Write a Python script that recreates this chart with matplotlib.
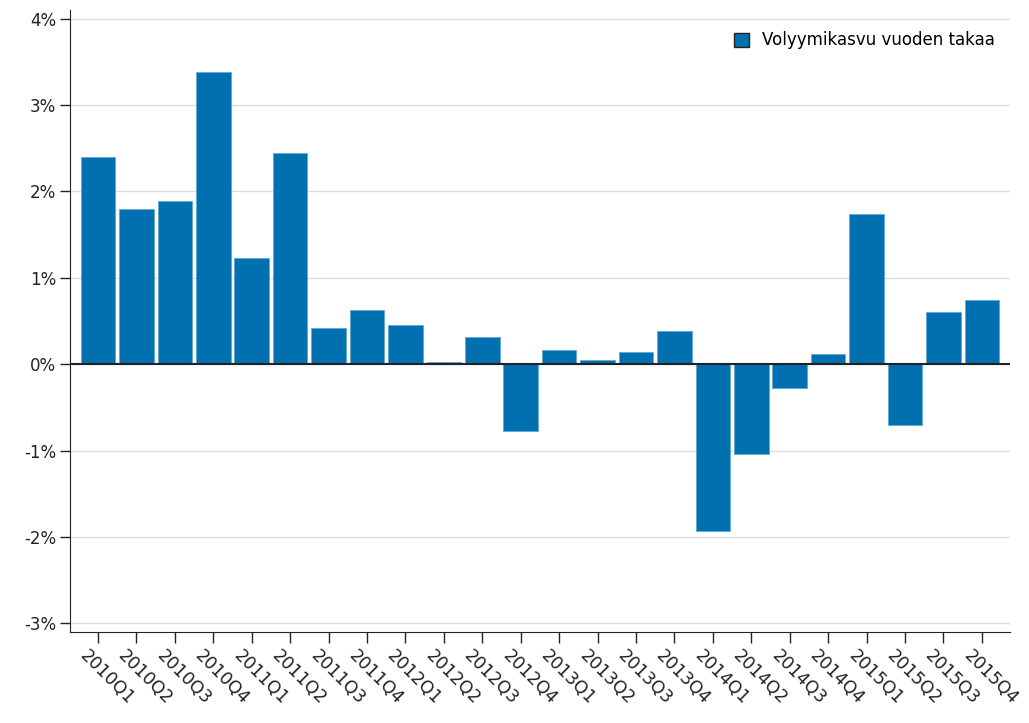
import numpy as np
import matplotlib
matplotlib.use('Agg')
import matplotlib.pyplot as plt
import matplotlib.transforms as mtransforms
from matplotlib.ticker import FuncFormatter

quarters = ['2010Q1', '2010Q2', '2010Q3', '2010Q4',
            '2011Q1', '2011Q2', '2011Q3', '2011Q4',
            '2012Q1', '2012Q2', '2012Q3', '2012Q4',
            '2013Q1', '2013Q2', '2013Q3', '2013Q4',
            '2014Q1', '2014Q2', '2014Q3', '2014Q4',
            '2015Q1', '2015Q2', '2015Q3', '2015Q4']
growth = [2.40, 1.80, 1.89, 3.38,
          1.23, 2.45, 0.42, 0.63,
          0.45, 0.02, 0.32, -0.77,
          0.16, 0.05, 0.14, 0.39,
          -1.93, -1.04, -0.27, 0.12,
          1.74, -0.70, 0.60, 0.74]
series_name = 'Volyymikasvu vuoden takaa'
yticks = [-3, -2, -1, 0, 1, 2, 3, 4]

plt.rcParams['font.family'] = 'DejaVu Sans'
fig = plt.figure(figsize=(10.29, 7.23), dpi=100)
ax = fig.add_axes([0.068, 0.126, 0.9135, 0.86])

x = np.arange(len(quarters))
ax.bar(x, growth, width=0.9, color='#0070b0', edgecolor='#5fa8d8',
       linewidth=0.6, label=series_name, zorder=3)
ax.axhline(0, color='#222222', linewidth=1.5, zorder=4)

ax.set_xlim(-0.73, len(quarters) - 0.27)
ax.set_ylim(-3.1, 4.1)
ax.set_yticks(yticks)
ax.yaxis.set_major_formatter(FuncFormatter(lambda v, p: '%d%%' % v))
ax.grid(axis='y', color='#dddddd', linewidth=1, zorder=0)

# x tick labels drawn as text so they can sit a little left of the ticks
ax.set_xticks(x)
ax.set_xticklabels([])
shift = mtransforms.ScaledTranslation(-9 / 100, -15 / 100, fig.dpi_scale_trans)
for xi, q in zip(x, quarters):
    ax.text(xi, 0, q, transform=ax.get_xaxis_transform() + shift,
            rotation=-45, ha='left', va='top', rotation_mode='anchor',
            fontsize=12.5, color='#222222', clip_on=False)

ax.spines['top'].set_visible(False)
ax.spines['right'].set_visible(False)
ax.spines['left'].set_color('#222222')
ax.spines['bottom'].set_color('#222222')
ax.tick_params(axis='x', length=8, width=1, colors='#222222')
ax.tick_params(axis='y', length=7, width=1, labelsize=12, pad=3, colors='#222222')

leg = ax.legend(loc='upper right', frameon=False, fontsize=12,
                handlelength=0.9, handleheight=0.9, handletextpad=0.8,
                bbox_to_anchor=(1.0, 0.99))
for h in leg.legend_handles:
    h.set_edgecolor('#222222')
    h.set_linewidth(1)

plt.savefig('out.png', dpi=100)
plt.close(fig)
